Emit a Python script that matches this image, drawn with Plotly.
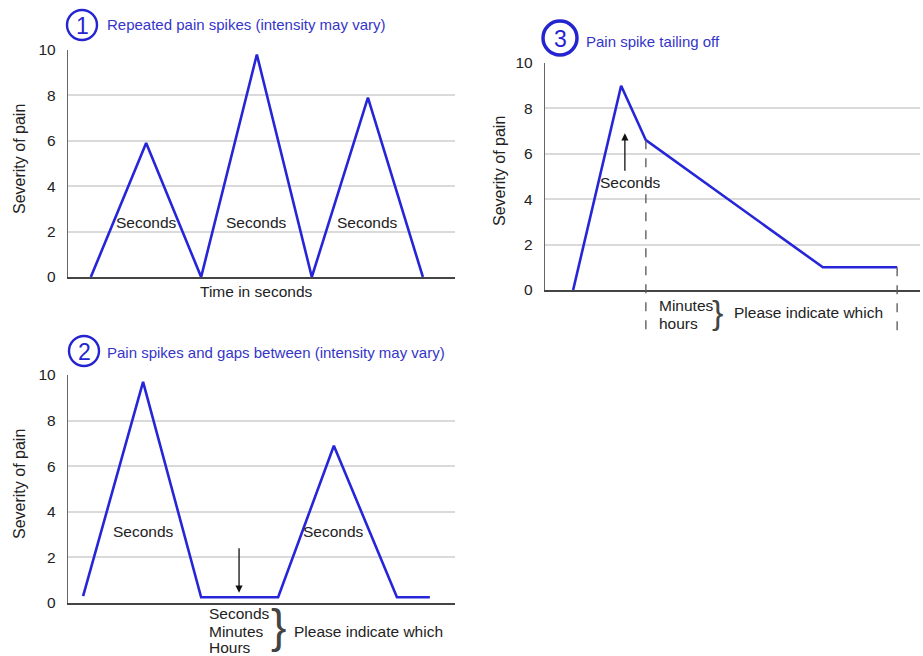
import plotly.graph_objects as go

W, H = 923, 656

# ---------------- data ----------------
# Panel 1: repeated pain spikes (time in arbitrary units 0-100)
p1_time = [5.9, 20.2, 34.4, 48.8, 63.0, 77.5, 91.7]
p1_pain = [0.0, 5.9, 0.0, 9.8, 0.0, 7.9, 0.0]
p1_label_time = [20.2, 48.8, 77.5]
p1_label_pain = [2.4, 2.4, 2.4]

# Panel 2: pain spikes and gaps between
p2_time = [3.9, 19.4, 34.4, 54.3, 68.7, 85.0, 93.5]
p2_pain = [0.3, 9.7, 0.25, 0.25, 6.9, 0.25, 0.25]
p2_label_time = [19.4, 68.7]
p2_label_pain = [3.15, 3.15]
p2_arrow_time = 44.2
p2_arrow_pain = 0.45

# Panel 3: pain spike tailing off
p3_time = [7.5, 20.3, 26.9, 74.1, 93.9]
p3_pain = [0.0, 9.0, 6.6, 1.0, 1.0]
p3_arrow_time = 21.3
p3_arrow_pain = 6.9
p3_label_time = 22.7
p3_label_pain = 4.75

y_ticks = [0, 2, 4, 6, 8, 10]
titles = ["Repeated pain spikes (intensity may vary)",
          "Pain spikes and gaps between (intensity may vary)",
          "Pain spike tailing off"]
y_title = "Severity of pain"

# ---------------- layout geometry (pixels) ----------------
def px_dom_x(a, b):
    return [a / W, b / W]

def px_dom_y(top, bottom):
    return [1 - bottom / H, 1 - top / H]

dom = {
    1: (px_dom_x(68, 455), px_dom_y(50, 277)),
    2: (px_dom_x(68, 455), px_dom_y(375, 603)),
    3: (px_dom_x(545, 920), px_dom_y(63, 290)),
}
XR = [0, 100]
YR = [0, 10]

BLUE = "#2626d8"
TBLUE = "#3535c8"
FONT = "Arial, 'Liberation Sans', sans-serif"
BODY = 15.5

def to_paper(panel, x=None, y=None):
    xd, yd = dom[panel]
    out = []
    if x is not None:
        out.append(xd[0] + (x - XR[0]) / (XR[1] - XR[0]) * (xd[1] - xd[0]))
    if y is not None:
        out.append(yd[0] + (y - YR[0]) / (YR[1] - YR[0]) * (yd[1] - yd[0]))
    return out[0] if len(out) == 1 else out

def px(xp, yp):
    return xp / W, 1 - yp / H

fig = go.Figure()
series = {1: (p1_time, p1_pain), 2: (p2_time, p2_pain), 3: (p3_time, p3_pain)}
for k, (xs, ys) in series.items():
    suf = "" if k == 1 else str(k)
    fig.add_trace(go.Scatter(x=xs, y=ys, mode="lines", xaxis="x" + suf, yaxis="y" + suf,
                             line=dict(color=BLUE, width=2.6), showlegend=False,
                             hoverinfo="skip"))

layout = dict(template="none", width=W, height=H, margin=dict(l=0, r=0, t=0, b=0, pad=0),
              paper_bgcolor="white", plot_bgcolor="white",
              font=dict(family=FONT, size=BODY, color="#222"), showlegend=False)
for k in (1, 2, 3):
    suf = "" if k == 1 else str(k)
    xd, yd = dom[k]
    layout["xaxis" + suf] = dict(domain=xd, range=XR, anchor="y" + suf, showgrid=False,
                                 zeroline=False, showticklabels=False, showline=True,
                                 linecolor="#444", linewidth=1.6, fixedrange=True,
                                 automargin=False, ticks="")
    layout["yaxis" + suf] = dict(domain=yd, range=YR, anchor="x" + suf, tickvals=y_ticks,
                                 showgrid=True, gridcolor="#dadada", gridwidth=1.6,
                                 zeroline=False, showline=True, linecolor="#666", linewidth=1.4,
                                 ticks="outside", ticklen=8, tickcolor="rgba(0,0,0,0)",
                                 tickfont=dict(size=15.5, color="#222"), fixedrange=True,
                                 automargin=False)
fig.update_layout(**layout)

ann = []
shapes = []

def text(xp, yp, t, size=BODY, color="#222", xanchor="center", angle=0, family=FONT):
    x, y = px(xp, yp)
    ann.append(dict(x=x, y=y, xref="paper", yref="paper", text=t, showarrow=False,
                    xanchor=xanchor, yanchor="middle", textangle=angle,
                    font=dict(size=size, color=color, family=family)))

def circle(cx, cy, r, num, lw):
    x0, y0 = px(cx - r, cy + r)
    x1, y1 = px(cx + r, cy - r)
    shapes.append(dict(type="circle", xref="paper", yref="paper", x0=x0, y0=y0, x1=x1, y1=y1,
                       line=dict(color="#2424d0", width=lw)))
    text(cx, cy + 1, num, size=23, color="#2424d0")

# titles
circle(82, 25, 15, "1", 2.4)
text(105, 25, titles[0], size=15, color=TBLUE, xanchor="left")
circle(84, 351, 15, "2", 2.4)
text(105, 352, titles[1], size=15, color=TBLUE, xanchor="left")
circle(560, 38, 17, "3", 3.5)
text(584, 41, titles[2], size=15, color=TBLUE, xanchor="left")

# y titles
text(19, 159, y_title, size=16, angle=-90)
text(19, 484, y_title, size=16, angle=-90)
text(499, 171, y_title, size=16, angle=-90)

# panel 1 labels
for xv, yv in zip(p1_label_time, p1_label_pain):
    ann.append(dict(x=xv, y=yv, xref="x", yref="y", text="Seconds", showarrow=False,
                    font=dict(size=BODY, color="#222")))
text(256, 292, "Time in seconds")

# panel 2 labels
for xv, yv in zip(p2_label_time, p2_label_pain):
    ann.append(dict(x=xv, y=yv, xref="x2", yref="y2", text="Seconds", showarrow=False,
                    font=dict(size=BODY, color="#222")))
ann.append(dict(x=p2_arrow_time, y=p2_arrow_pain, xref="x2", yref="y2", text="",
                showarrow=True, ax=0, ay=-46, arrowhead=2, arrowsize=1.1, arrowwidth=1.3,
                arrowcolor="#111"))
text(207, 613, "Seconds", xanchor="left")
text(207, 631, "Minutes", xanchor="left")
text(207, 647, "Hours", xanchor="left")
text(278, 626, "}", size=46, color="#444")
text(292, 631, "Please indicate which", xanchor="left")

# panel 3 labels
ann.append(dict(x=p3_arrow_time, y=p3_arrow_pain, xref="x3", yref="y3", text="",
                showarrow=True, ax=0, ay=39, arrowhead=2, arrowsize=1.1, arrowwidth=1.3,
                arrowcolor="#111"))
ann.append(dict(x=p3_label_time, y=p3_label_pain, xref="x3", yref="y3", text="Seconds",
                showarrow=False, font=dict(size=BODY, color="#222")))
text(657, 305, "Minutes", xanchor="left")
text(657, 323, "hours", xanchor="left")
text(717, 312, "}", size=34, color="#444")
text(732, 313, "Please indicate which", xanchor="left")

# dashed guides in panel 3 (from data points down below the axis)
y_bottom = 1 - 333 / H
for i in (2, 4):
    xp, yp = to_paper(3, p3_time[i], p3_pain[i])
    shapes.append(dict(type="line", xref="paper", yref="paper", x0=xp, x1=xp, y0=yp, y1=y_bottom,
                       line=dict(color="#555", width=1.3, dash="dash"), layer="above"))

fig.update_layout(annotations=ann, shapes=shapes)
fig.write_html("out.html", config={"displayModeBar": False},
               post_script="document.body.style.margin='0px';document.body.style.overflow='hidden';")
